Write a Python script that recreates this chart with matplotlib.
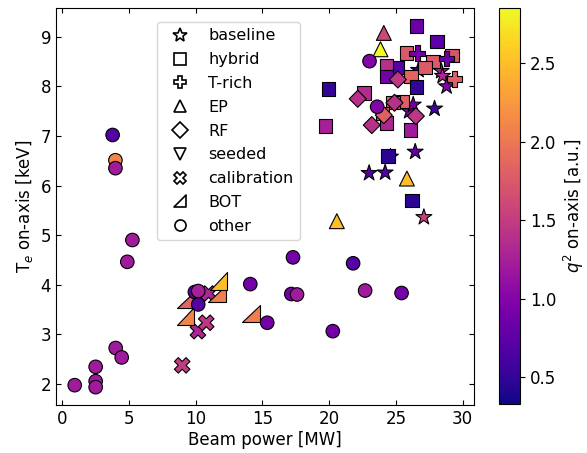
import matplotlib
matplotlib.use("Agg")
import matplotlib.pyplot as plt
from matplotlib.lines import Line2D
from matplotlib.path import Path
import numpy as np

# beam power [MW], central Te [keV], q^2 on-axis [a.u.] per scenario group
baseline_x = [26.7, 28.4, 28.5, 28.8, 26.0, 26.3, 27.9, 26.45, 24.6, 23.0, 24.2, 27.1]
baseline_y = [8.33, 8.31, 8.21, 8.00, 7.50, 7.63, 7.55, 6.68, 6.58, 6.25, 6.26, 5.36]
baseline_q = [0.45, 1.20, 1.30, 1.00, 0.90, 0.90, 0.60, 0.80, 1.30, 0.70, 0.70, 1.55]

hybrid_x = [19.95, 19.75, 26.55, 28.1, 25.8, 29.2, 27.8, 27.2, 25.1, 24.3, 24.3,
            26.15, 26.55, 22.6, 25.5, 24.8, 24.0, 24.3, 26.1, 24.4, 26.2]
hybrid_y = [7.95, 7.20, 9.22, 8.91, 8.67, 8.62, 8.50, 8.38, 8.38, 8.42, 8.20,
            8.20, 7.99, 7.87, 7.70, 7.68, 7.45, 7.26, 7.12, 6.60, 5.70]
hybrid_q = [0.50, 1.25, 0.85, 0.75, 1.75, 1.70, 1.75, 1.75, 0.70, 1.40, 0.90,
            1.85, 0.50, 1.35, 1.80, 1.85, 1.80, 1.30, 1.20, 0.45, 0.45]

trich_x = [26.6, 28.8, 29.4]
trich_y = [8.67, 8.56, 8.15]
trich_q = [0.90, 0.85, 1.80]

ep_x = [20.58, 24.1, 23.85, 25.83]
ep_y = [5.28, 9.08, 8.75, 6.14]
ep_q = [2.50, 1.60, 2.85, 2.50]

rf_x = [25.15, 22.15, 24.1, 23.2, 24.9, 26.5]
rf_y = [8.14, 7.75, 7.42, 7.22, 7.67, 7.40]
rf_q = [1.45, 1.40, 1.80, 1.40, 1.40, 1.45]

seeded_x = []
seeded_y = []
seeded_q = []

calib_x = [9.0, 10.18, 10.8, 10.98]
calib_y = [2.37, 3.06, 3.23, 3.82]
calib_q = [1.50, 1.30, 1.45, 1.30]

bot_x = [11.6, 11.73, 9.3, 9.26, 14.15]
bot_y = [3.82, 4.07, 3.70, 3.37, 3.42]
bot_q = [2.05, 2.50, 1.85, 2.10, 2.05]

other_x = [3.79, 4.0, 4.0, 5.27, 4.89, 4.02, 4.47, 2.52, 2.52, 2.52, 0.95,
           9.95, 10.2, 10.2, 14.1, 15.37, 17.3, 17.17, 17.6, 20.28, 21.8,
           22.7, 25.43, 23.03, 23.6]
other_y = [7.02, 6.51, 6.35, 4.90, 4.46, 2.72, 2.53, 2.34, 2.05, 1.93, 1.97,
           3.85, 3.60, 3.87, 4.01, 3.23, 4.55, 3.81, 3.80, 3.06, 4.43,
           3.88, 3.83, 8.51, 7.59]
other_q = [0.70, 2.10, 1.20, 1.20, 1.20, 1.20, 1.20, 1.20, 1.20, 1.20, 1.20,
           0.70, 0.70, 1.25, 0.90, 0.90, 0.90, 0.90, 1.20, 0.90, 0.70,
           1.20, 0.90, 1.00, 1.00]

q_min, q_max = 0.33, 2.85

# right triangle with the right angle at bottom-right
bot_marker = Path([(-1, -1), (1, -1), (1, 1), (-1, -1)],
                  [Path.MOVETO, Path.LINETO, Path.LINETO, Path.CLOSEPOLY])

groups = [
    ("baseline", "*", baseline_x, baseline_y, baseline_q, 145),
    ("hybrid", "s", hybrid_x, hybrid_y, hybrid_q, 95),
    ("T-rich", "P", trich_x, trich_y, trich_q, 125),
    ("EP", "^", ep_x, ep_y, ep_q, 115),
    ("RF", "D", rf_x, rf_y, rf_q, 75),
    ("seeded", "v", seeded_x, seeded_y, seeded_q, 115),
    ("calibration", "X", calib_x, calib_y, calib_q, 125),
    ("BOT", bot_marker, bot_x, bot_y, bot_q, 160),
    ("other", "o", other_x, other_y, other_q, 95),
]

plt.rcParams['font.size'] = 12
fig = plt.figure(figsize=(5.87, 4.53), dpi=100)
ax = fig.add_axes([0.0954, 0.106, 0.712, 0.876])
cax = fig.add_axes([0.850, 0.108, 0.036, 0.874])

handles = []
sc = None
for name, marker, xs, ys, qs, size in groups:
    sc = ax.scatter(xs, ys, c=qs, marker=marker, s=size, cmap='plasma',
                    vmin=q_min, vmax=q_max, edgecolors='black', linewidths=0.8)
    handles.append(Line2D([], [], linestyle='none', marker=marker,
                          markersize=10 if marker == '*' else 8,
                          markerfacecolor='white', markeredgecolor='black',
                          markeredgewidth=1.2, label=name))

ax.set_xlim(-0.45, 30.85)
ax.set_ylim(1.57, 9.58)
ax.set_xticks([0, 5, 10, 15, 20, 25, 30])
ax.set_yticks(range(2, 10))
ax.tick_params(direction='in', top=True, right=True)
ax.set_xlabel('Beam power [MW]', labelpad=2)
ax.set_ylabel('T$_e$ on-axis [keV]')

ax.legend(handles=handles, loc='upper left', bbox_to_anchor=(0.242, 0.965),
          borderaxespad=0, fontsize=11.5, labelspacing=0.55)

cb = fig.colorbar(sc, cax=cax)
cb.set_ticks([0.5, 1.0, 1.5, 2.0, 2.5])
cb.set_label('$q^2$ on-axis [a.u.]')

fig.savefig('out.png', dpi=100)
